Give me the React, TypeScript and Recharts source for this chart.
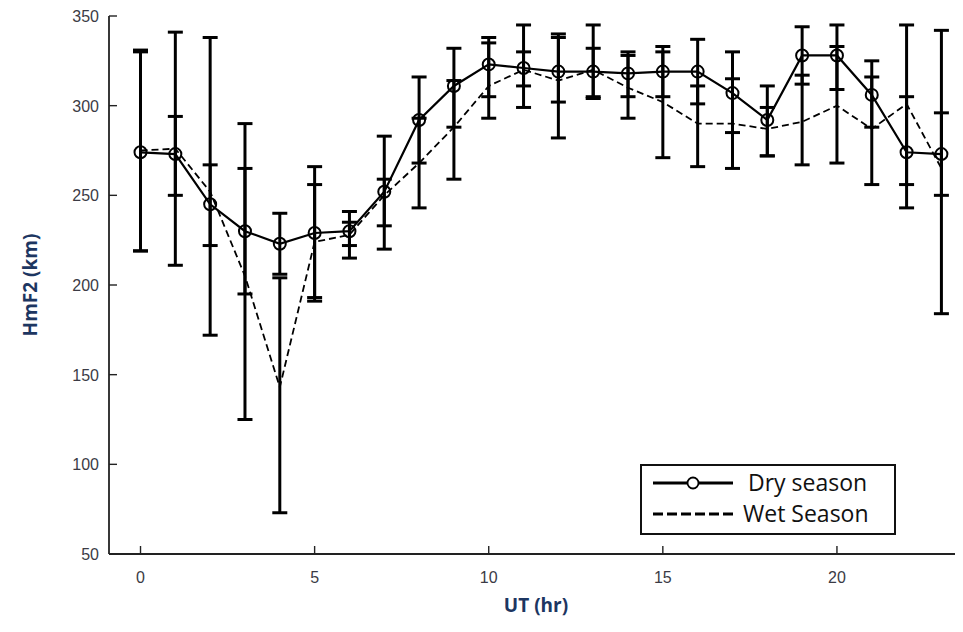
import React from "react";
import { ComposedChart, Line, XAxis, YAxis, ErrorBar, Legend, Label } from "recharts";

const hours = [0, 1, 2, 3, 4, 5, 6, 7, 8, 9, 10, 11, 12, 13, 14, 15, 16, 17, 18, 19, 20, 21, 22, 23];
const dry = [274, 273, 245, 230, 223, 229, 230, 252, 292, 311, 323, 321, 319, 319, 318, 319, 319, 307, 292, 328, 328, 306, 274, 273];
const dryLow = [219, 250, 222, 195, 206, 193, 222, 220, 268, 288, 305, 299, 302, 305, 305, 305, 301, 285, 272, 312, 309, 288, 243, 250];
const dryHigh = [331, 294, 267, 265, 240, 266, 241, 283, 316, 332, 338, 345, 338, 332, 330, 333, 337, 330, 311, 344, 345, 325, 305, 296];
const wet = [275, 276, 252, 205, 143, 224, 228, 250, 268, 288, 311, 320, 314, 320, 310, 302, 290, 290, 287, 291, 300, 287, 301, 265];
const wetLow = [219, 211, 172, 125, 73, 191, 215, 233, 243, 259, 293, 311, 282, 304, 293, 271, 266, 265, 272, 267, 268, 256, 256, 184];
const wetHigh = [330, 341, 338, 290, 204, 256, 235, 259, 293, 314, 335, 330, 340, 345, 328, 330, 311, 315, 299, 317, 333, 316, 345, 342];
const xTicks = [0, 5, 10, 15, 20];
const yTicks = [50, 100, 150, 200, 250, 300, 350];
const seriesNames = ["Dry season", "Wet Season"];

const data = hours.map((h, i) => ({
  hour: h,
  dry: dry[i],
  wet: wet[i],
  dryErr: [dry[i] - dryLow[i], dryHigh[i] - dry[i]],
  wetErr: [wet[i] - wetLow[i], wetHigh[i] - wet[i]],
}));

const AXIS = "#222";
const TICK_TXT = "#3b3b45";
const TITLE = "#1d3661";

const BottomTick = (props: any) => {
  const { x, y, payload } = props;
  return (
    <g>
      <line x1={x} y1={y} x2={x} y2={y - 8} stroke={AXIS} strokeWidth={1.4} />
      <text x={x} y={y + 29} textAnchor="middle" fill={TICK_TXT} fontSize={16} fontFamily="Liberation Sans, Arial, sans-serif">
        {payload.value}
      </text>
    </g>
  );
};

const TopTick = (props: any) => {
  const { x, y } = props;
  return <line x1={x} y1={y} x2={x} y2={y + 8} stroke={AXIS} strokeWidth={1.4} />;
};

const LeftTick = (props: any) => {
  const { x, y, payload } = props;
  return (
    <g>
      <line x1={x} y1={y} x2={x + 8} y2={y} stroke={AXIS} strokeWidth={1.4} />
      <text x={x - 10} y={y + 6} textAnchor="end" fill={TICK_TXT} fontSize={16} fontFamily="Liberation Sans, Arial, sans-serif">
        {payload.value}
      </text>
    </g>
  );
};

const LegendBox = () => (
  <div style={{ width: 256, height: 71, border: "2px solid #111", background: "#fff", boxSizing: "border-box" }}>
    <svg width={252} height={67} style={{ display: "block" }}>
      <line x1={11} y1={17} x2={91} y2={17} stroke="#000" strokeWidth={2.8} />
      <circle cx={51} cy={17} r={5.5} fill="#fff" stroke="#000" strokeWidth={1.8} />
      <text x={106} y={25} fontSize={23} fontFamily="Open Sans, sans-serif" fill="#111">{seriesNames[0]}</text>
      <line x1={11} y1={48} x2={91} y2={48} stroke="#000" strokeWidth={2.8} strokeDasharray="10 4" />
      <text x={101} y={56} fontSize={23} fontFamily="Open Sans, sans-serif" fill="#111">{seriesNames[1]}</text>
    </svg>
  </div>
);

export default function App() {
  return (
    <div style={{ margin: "-8px 0 0 -8px", width: 963, height: 632, background: "#fff" }}>
      <ComposedChart width={963} height={632} data={data} margin={{ top: 16, right: 0, bottom: 0, left: 0 }}>
        <XAxis
          dataKey="hour"
          type="number"
          domain={[-0.905, 23.62]}
          allowDataOverflow
          ticks={xTicks}
          interval={0}
          tickLine={false}
          tickSize={0}
          tickMargin={0}
          height={78}
          axisLine={{ stroke: AXIS, strokeWidth: 1.8 }}
          tick={<BottomTick />}
        >
          <Label
            content={(p: any) => {
              const vb = p.viewBox;
              return (
                <text x={vb.x + vb.width / 2} y={vb.y + 58} textAnchor="middle" fill={TITLE} fontSize={19} fontWeight="bold" fontFamily="Open Sans, sans-serif">
                  UT (hr)
                </text>
              );
            }}
          />
        </XAxis>
        <XAxis
          xAxisId="top"
          orientation="top"
          dataKey="hour"
          type="number"
          domain={[-0.905, 23.62]}
          allowDataOverflow
          ticks={xTicks}
          interval={0}
          tickLine={false}
          tickSize={0}
          tickMargin={0}
          height={0}
          axisLine={{ stroke: AXIS, strokeWidth: 1.8 }}
          tick={<TopTick />}
        />
        <YAxis
          type="number"
          domain={[50, 350]}
          allowDataOverflow
          ticks={yTicks}
          interval={0}
          tickLine={false}
          tickSize={0}
          tickMargin={0}
          width={109}
          axisLine={{ stroke: AXIS, strokeWidth: 1.8 }}
          tick={<LeftTick />}
        >
          <Label
            content={(p: any) => {
              const vb = p.viewBox;
              const cy = vb.y + vb.height / 2;
              return (
                <text x={30} y={cy} transform={`rotate(-90 30 ${cy})`} textAnchor="middle" dominantBaseline="central" fill={TITLE} fontSize={19} fontWeight="bold" fontFamily="Open Sans, sans-serif">
                  HmF2 (km)
                </text>
              );
            }}
          />
        </YAxis>
        <Legend
          layout="vertical"
          align="center"
          verticalAlign="middle"
          content={() => <LegendBox />}
          wrapperStyle={{ left: 640, top: 464, width: 256, height: 71 }}
        />
        <Line
          type="linear"
          dataKey="wet"
          name={seriesNames[1]}
          stroke="#000"
          strokeWidth={1.8}
          strokeDasharray="7 4"
          dot={false}
          activeDot={false}
          isAnimationActive={false}
        >
          <ErrorBar dataKey="wetErr" direction="y" width={7.5} stroke="#000" strokeWidth={3} />
        </Line>
        <Line
          type="linear"
          dataKey="dry"
          name={seriesNames[0]}
          stroke="#000"
          strokeWidth={2.2}
          dot={{ r: 6, fill: "none", stroke: "#000", strokeWidth: 2 }}
          activeDot={false}
          isAnimationActive={false}
        >
          <ErrorBar dataKey="dryErr" direction="y" width={7.5} stroke="#000" strokeWidth={3} />
        </Line>
      </ComposedChart>
    </div>
  );
}
